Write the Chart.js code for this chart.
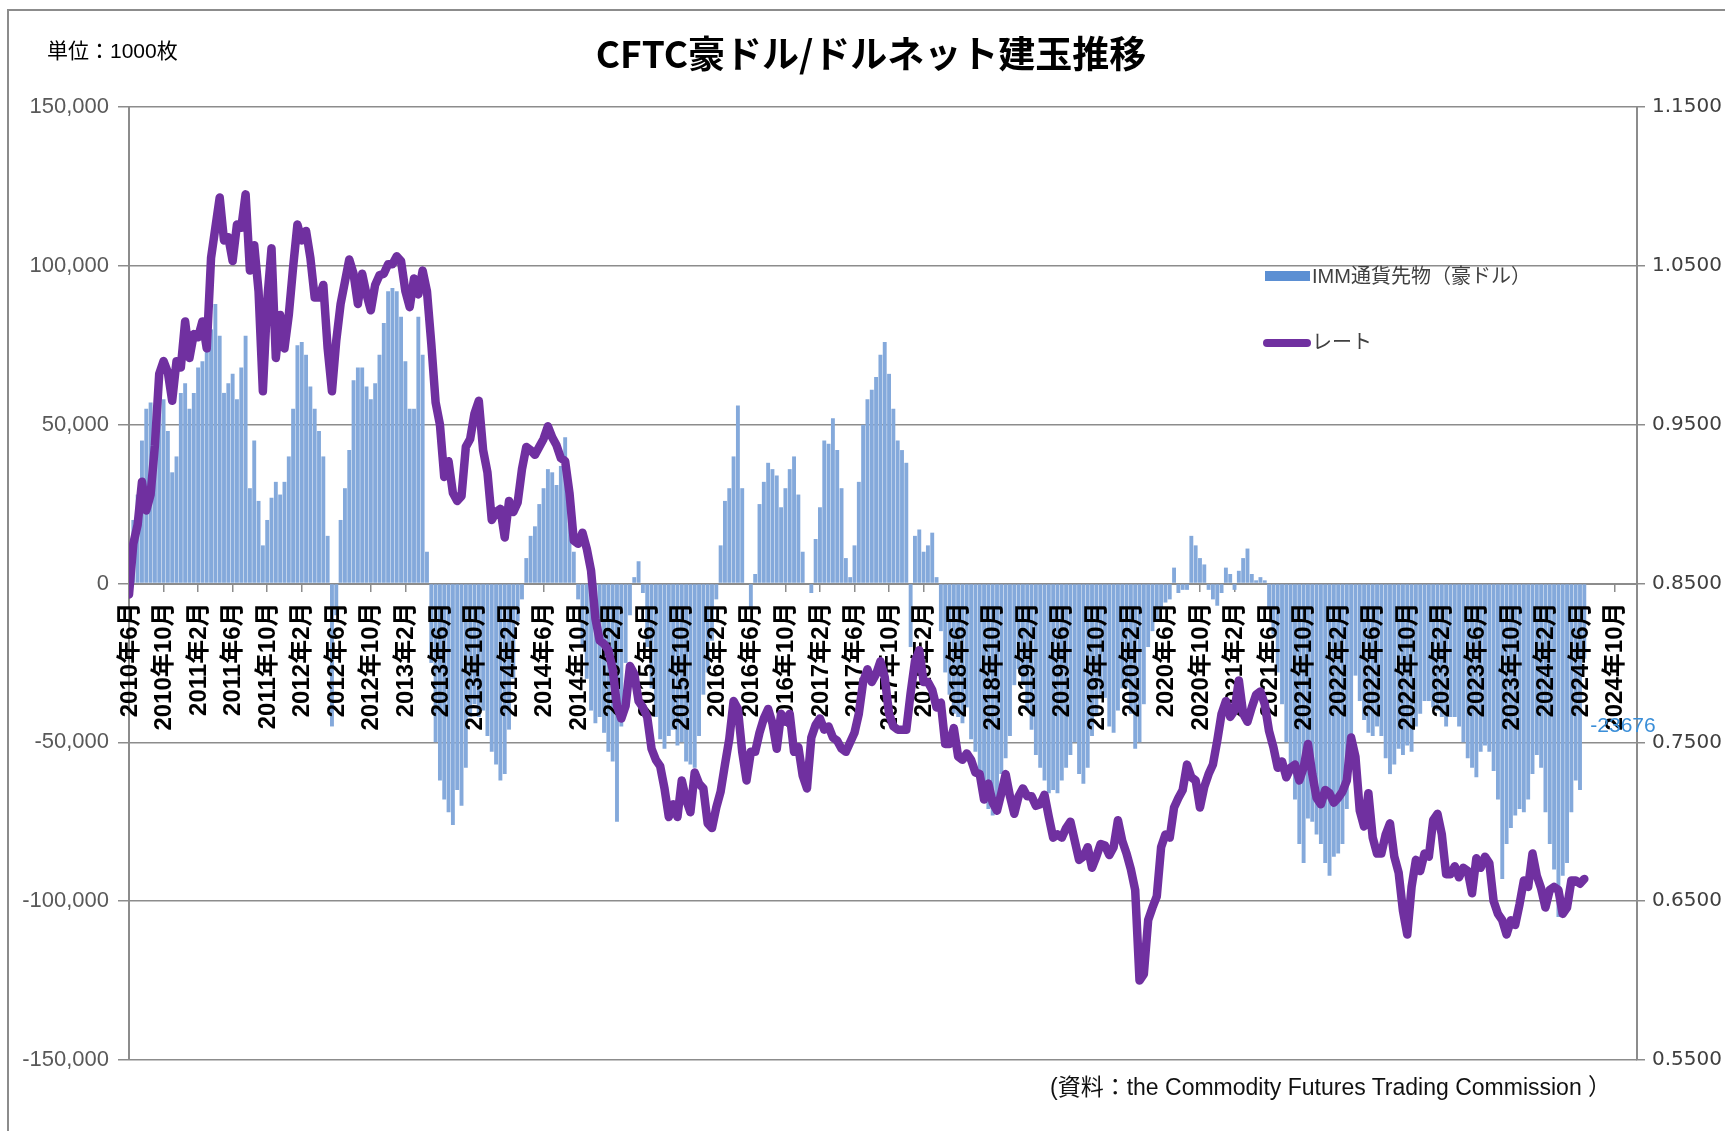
<!DOCTYPE html>
<html><head><meta charset="utf-8">
<script src="https://cdn.jsdelivr.net/npm/chart.js@4.4.1/dist/chart.umd.min.js"></script>
<style>
html,body{margin:0;padding:0;background:#fff;}
#wrap{position:relative;width:1725px;height:1131px;overflow:hidden;background:#fff;}
#frame{position:absolute;left:7px;top:9px;width:1800px;height:1300px;border-top:2px solid #8c8c8c;border-left:2px solid #8c8c8c;}
canvas{position:absolute;left:0;top:0;}
.t{position:absolute;white-space:nowrap;color:#000;}
#title{left:0;width:1742px;text-align:center;top:34px;font-weight:bold;font-size:37px;line-height:37px;font-family:"Noto Sans CJK JP",sans-serif;}
#unit{left:47px;top:40px;font-size:21px;line-height:22px;font-family:"Liberation Sans","Noto Sans CJK JP",sans-serif;}
#src{left:1050px;top:1074px;font-size:23px;line-height:26px;font-family:"Liberation Sans","Noto Sans CJK JP",sans-serif;color:#111;}
</style></head>
<body>
<div id="wrap">
<div id="frame"></div>
<canvas id="c" width="1725" height="1131"></canvas>
<div class="t" id="title">CFTC豪ドル/ドルネット建玉推移</div>
<div class="t" id="unit">単位：1000枚</div>
<div class="t" id="src">(資料：the Commodity Futures Trading Commission ）</div>
</div>
<script>
// Time axis: half-month steps starting June 2010 (x unit = months since 2010年6月)
const stepMonths = 0.5;
const tickStepMonths = 4;
const axisMaxMonths = 174.6;

const tickLabels = ['2010年6月','2010年10月','2011年2月','2011年6月','2011年10月','2012年2月','2012年6月','2012年10月','2013年2月','2013年6月','2013年10月','2014年2月','2014年6月','2014年10月','2015年2月','2015年6月','2015年10月','2016年2月','2016年6月','2016年10月','2017年2月','2017年6月','2017年10月','2018年2月','2018年6月','2018年10月','2019年2月','2019年6月','2019年10月','2020年2月','2020年6月','2020年10月','2021年2月','2021年6月','2021年10月','2022年2月','2022年6月','2022年10月','2023年2月','2023年6月','2023年10月','2024年2月','2024年6月','2024年10月'];

// IMM通貨先物（豪ドル） net positions (contracts), half-monthly
const barValues = [
12000,20000,28000,45000,55000,57000,50000,60000,58000,48000,35000,40000,
60000,63000,55000,60000,68000,70000,75000,80000,88000,78000,60000,63000,
66000,58000,68000,78000,30000,45000,26000,12000,20000,27000,32000,28000,
32000,40000,55000,75000,76000,72000,62000,55000,48000,40000,15000,-45000,
-10000,20000,30000,42000,64000,68000,68000,62000,58000,63000,72000,82000,
92000,93000,92000,84000,70000,55000,55000,84000,72000,10000,-25000,-50000,
-62000,-68000,-72000,-76000,-65000,-70000,-58000,-42000,-38000,-42000,-40000,-48000,
-53000,-57000,-62000,-60000,-46000,-30000,-12000,-5000,8000,15000,18000,25000,
30000,36000,35000,31000,37000,46000,30000,10000,-5000,-20000,-30000,-40000,
-44000,-42000,-47000,-53000,-56000,-75000,-45000,-25000,-10000,2000,7000,-3000,
-20000,-33000,-42000,-49000,-52000,-48000,-46000,-51000,-50000,-56000,-57000,-58000,
-48000,-35000,-28000,-18000,-5000,12000,26000,30000,40000,56000,30000,0,
-8000,3000,25000,32000,38000,36000,34000,24000,30000,36000,40000,28000,
10000,0,-3000,14000,24000,45000,44000,52000,42000,30000,8000,2000,
12000,32000,50000,58000,61000,65000,72000,76000,66000,55000,45000,42000,
38000,-20000,15000,17000,10000,12000,16000,2000,-15000,-28000,-35000,-41000,
-42000,-44000,-39000,-49000,-53000,-59000,-68000,-71000,-73000,-70000,-60000,-55000,
-48000,-32000,-27000,-31000,-40000,-46000,-54000,-58000,-62000,-66000,-65000,-66000,
-62000,-58000,-54000,-50000,-60000,-63000,-58000,-48000,-41000,-35000,-36000,-45000,
-47000,-40000,-33000,-33000,-41000,-52000,-50000,-38000,-20000,-15000,-12000,-8000,
-6000,-5000,5000,-3000,-2000,-2000,15000,12000,8000,6000,-2000,-5000,
-7000,-3000,5000,3000,-2000,4000,8000,11000,3000,1000,2000,1000,
-8000,-16000,-28000,-38000,-50000,-58000,-68000,-82000,-88000,-74000,-75000,-79000,
-82000,-88000,-92000,-86000,-85000,-82000,-71000,-48000,-29000,-37000,-43000,-47000,
-48000,-45000,-48000,-55000,-60000,-57000,-52000,-54000,-51000,-53000,-45000,-41000,
-37000,-37000,-39000,-40000,-42000,-45000,-42000,-42000,-45000,-50000,-55000,-58000,
-61000,-53000,-51000,-53000,-59000,-68000,-93000,-82000,-77000,-73000,-71000,-72000,
-68000,-60000,-54000,-58000,-72000,-82000,-90000,-105000,-92000,-88000,-72000,-62000,
-65000,-23676];

// レート (AUD/USD), half-monthly
const rateValues = [
0.843,0.875,0.887,0.914,0.896,0.906,0.937,0.982,0.990,0.983,0.965,0.990,
0.986,1.015,0.992,1.007,1.005,1.015,0.998,1.055,1.074,1.093,1.066,1.068,
1.053,1.076,1.074,1.095,1.047,1.063,1.034,0.971,1.028,1.061,0.992,1.019,
0.998,1.019,1.049,1.076,1.066,1.072,1.055,1.030,1.030,1.038,0.998,0.971,
1.003,1.026,1.040,1.054,1.045,1.026,1.045,1.032,1.022,1.038,1.044,1.045,
1.051,1.051,1.056,1.053,1.034,1.024,1.042,1.032,1.047,1.034,1.001,0.964,
0.950,0.917,0.927,0.907,0.902,0.905,0.936,0.941,0.957,0.965,0.934,0.920,
0.890,0.895,0.897,0.879,0.902,0.895,0.901,0.922,0.936,0.934,0.931,0.936,
0.941,0.949,0.942,0.937,0.929,0.927,0.907,0.877,0.875,0.882,0.872,0.858,
0.828,0.814,0.812,0.808,0.796,0.773,0.765,0.773,0.798,0.793,0.776,0.772,
0.766,0.746,0.739,0.735,0.721,0.703,0.711,0.703,0.726,0.714,0.706,0.731,
0.724,0.721,0.699,0.696,0.709,0.719,0.736,0.752,0.776,0.771,0.744,0.726,
0.744,0.744,0.756,0.765,0.771,0.762,0.746,0.768,0.763,0.768,0.744,0.747,
0.729,0.721,0.753,0.761,0.765,0.758,0.760,0.753,0.751,0.746,0.744,0.750,
0.756,0.768,0.788,0.796,0.788,0.793,0.801,0.791,0.768,0.760,0.758,0.758,
0.758,0.781,0.801,0.808,0.788,0.788,0.783,0.772,0.775,0.749,0.749,0.759,
0.741,0.739,0.743,0.739,0.731,0.730,0.714,0.724,0.712,0.707,0.718,0.730,
0.716,0.705,0.716,0.721,0.716,0.716,0.710,0.711,0.717,0.703,0.690,0.692,
0.690,0.696,0.700,0.688,0.676,0.678,0.684,0.671,0.678,0.686,0.685,0.679,
0.684,0.701,0.688,0.680,0.670,0.657,0.600,0.604,0.638,0.646,0.653,0.684,
0.692,0.690,0.709,0.715,0.720,0.736,0.728,0.726,0.709,0.722,0.730,0.736,
0.751,0.768,0.776,0.766,0.770,0.789,0.768,0.763,0.772,0.780,0.782,0.774,
0.757,0.747,0.734,0.738,0.728,0.734,0.736,0.726,0.734,0.749,0.730,0.715,
0.711,0.720,0.718,0.712,0.715,0.719,0.726,0.753,0.741,0.707,0.697,0.718,
0.690,0.680,0.680,0.692,0.699,0.678,0.668,0.644,0.629,0.659,0.676,0.669,
0.680,0.678,0.701,0.705,0.692,0.667,0.667,0.672,0.665,0.671,0.669,0.655,
0.677,0.671,0.678,0.674,0.650,0.642,0.638,0.629,0.638,0.635,0.648,0.663,
0.659,0.680,0.666,0.658,0.646,0.657,0.659,0.657,0.642,0.646,0.663,0.663,
0.661,0.664];

const barLabel = 'IMM通貨先物（豪ドル）';
const lineLabel = 'レート';

const barColor = '#84a9db';
const barLegendColor = '#5b8fd3';
const lineColor = '#7030a0';
const gridColor = '#8c8c8c';

const barData = barValues.map((v, i) => ({x: i * stepMonths, y: v}));
const rateData = rateValues.map((v, i) => ({x: i * stepMonths, y: v}));

const overlay = {
  id: 'overlay',
  afterDatasetDraw(chart, args) {
    if (args.index !== 0) return;
    const {ctx, scales: {x, y}} = chart;
    const y0 = y.getPixelForValue(0);
    ctx.save();
    ctx.font = 'bold 24px "Liberation Sans","Noto Sans CJK JP"';
    ctx.fillStyle = '#000';
    ctx.textAlign = 'right';
    ctx.textBaseline = 'middle';
    tickLabels.forEach((lab, i) => {
      const px = x.getPixelForValue(i * tickStepMonths);
      ctx.save();
      ctx.translate(px + 1, y0 + 19);
      ctx.rotate(-Math.PI / 2);
      ctx.fillText(lab, 0, 0);
      ctx.restore();
    });
    ctx.restore();
  },
  afterDraw(chart) {
    const {ctx, scales: {x, y}} = chart;
    ctx.save();
    const last = barData[barData.length - 1];
    ctx.font = '21px "Liberation Sans"';
    ctx.fillStyle = '#3a8ed8';
    ctx.textAlign = 'left';
    ctx.textBaseline = 'middle';
    ctx.fillText(String(last.y), x.getPixelForValue(last.x) + 6, y.getPixelForValue(-45000));
    ctx.font = '20px "Liberation Sans","Noto Sans CJK JP"';
    ctx.fillStyle = barLegendColor;
    ctx.fillRect(1265, 271, 45, 10);
    ctx.fillStyle = '#404040';
    ctx.fillText(barLabel, 1312, 277);
    ctx.strokeStyle = lineColor;
    ctx.lineWidth = 8;
    ctx.lineCap = 'round';
    ctx.beginPath();
    ctx.moveTo(1267, 343);
    ctx.lineTo(1307, 343);
    ctx.stroke();
    ctx.fillText(lineLabel, 1312, 343);
    ctx.restore();
  }
};

new Chart(document.getElementById('c'), {
  type: 'bar',
  data: {
    datasets: [
      {type: 'bar', label: barLabel, data: barData, yAxisID: 'y', xAxisID: 'x',
       backgroundColor: barColor, borderWidth: 0, categoryPercentage: 1.0, barPercentage: 0.9, order: 2},
      {type: 'line', label: lineLabel, data: rateData, yAxisID: 'y1', xAxisID: 'x',
       borderColor: lineColor, borderWidth: 8.5, pointRadius: 0, tension: 0,
       borderJoinStyle: 'round', borderCapStyle: 'round', fill: false, order: 1}
    ]
  },
  options: {
    responsive: false,
    animation: false,
    devicePixelRatio: 1,
    layout: {padding: {top: 107, bottom: 71, left: 0, right: 0}},
    plugins: {legend: {display: false}, tooltip: {enabled: false}, title: {display: false}},
    scales: {
      x: {
        type: 'linear', position: {y: 0}, min: 0, max: axisMaxMonths, offset: false,
        afterBuildTicks: (s) => { s.ticks = tickLabels.map((_, i) => ({value: i * tickStepMonths})); },
        ticks: {display: false},
        grid: {display: true, drawOnChartArea: false, drawTicks: true, tickLength: 7, color: gridColor, lineWidth: 1.5, offset: false},
        border: {display: true, color: gridColor, width: 2}
      },
      y: {
        position: 'left', min: -150000, max: 150000,
        ticks: {stepSize: 50000, padding: 9, color: '#595959', font: {family: 'Liberation Sans', size: 22}},
        grid: {color: gridColor, lineWidth: 1.5, tickLength: 11},
        border: {display: true, color: gridColor, width: 2},
        afterFit: (s) => { s.width = 129; }
      },
      y1: {
        position: 'right', min: 0.55, max: 1.15,
        ticks: {stepSize: 0.1, padding: 7, color: '#404040', font: {family: 'DejaVu Sans', size: 20},
                callback: (v) => Number(v).toFixed(4)},
        grid: {drawOnChartArea: false, tickLength: 8, color: gridColor, lineWidth: 1.5},
        border: {display: true, color: gridColor, width: 2},
        afterFit: (s) => { s.width = 88; }
      }
    }
  },
  plugins: [overlay]
});
</script>
</body></html>
